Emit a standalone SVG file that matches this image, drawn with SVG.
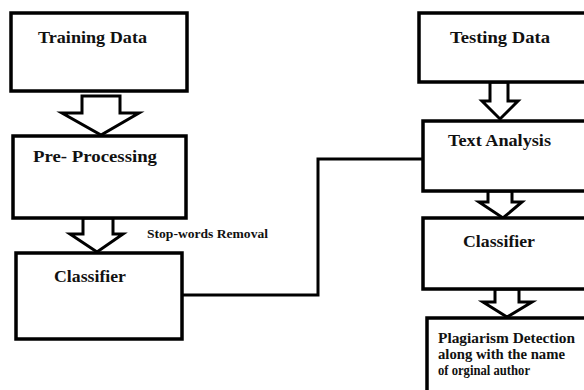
<svg xmlns="http://www.w3.org/2000/svg" width="584" height="390" viewBox="0 0 584 390">
  <style>
    .box { fill: #ffffff; stroke: #000000; stroke-width: 3.5; }
    .arrow { fill: #ffffff; stroke: #000000; stroke-width: 3; stroke-linejoin: miter; }
    .wire { fill: none; stroke: #000000; stroke-width: 3; }
    .lbl { font-family: "Liberation Serif", "Times New Roman", serif; font-weight: bold; fill: #111111; }
    .big { font-size: 17px; }
    .small { font-size: 11.5px; }
    .mid { font-size: 14.5px; }
  </style>
  <rect width="584" height="390" fill="#ffffff"/>

  <!-- link between the two pipelines -->
  <g id="connectors">
    <polyline class="wire" points="182,295 318,295 318,159 423,159"/>
    <!-- block arrows -->
    <polygon class="arrow" points="82,96 120,96 120,113 139,113 101,135 62,113 82,113"/>
    <polygon class="arrow" points="83,218 113,218 113,234 123,234 97,252 70,234 83,234"/>
    <polygon class="arrow" points="490,82 508,82 508,101 518,101 500,119 482,101 490,101"/>
    <polygon class="arrow" points="488,191 512,191 512,202 522,202 503,218 479,202 488,202"/>
    <polygon class="arrow" points="495,289 519,289 519,302 532,302 507,317 483,302 495,302"/>
  </g>

  <g id="training-data">
    <rect class="box" x="11" y="13" width="176" height="78"/>
    <text class="lbl big" x="38" y="43" textLength="109" lengthAdjust="spacingAndGlyphs">Training Data</text>
  </g>

  <g id="pre-processing">
    <rect class="box" x="13" y="136" width="173" height="82"/>
    <text class="lbl big" x="33" y="162" textLength="124" lengthAdjust="spacingAndGlyphs">Pre- Processing</text>
  </g>

  <g id="stop-words-label">
    <text class="lbl small" x="147" y="238" textLength="121" lengthAdjust="spacingAndGlyphs">Stop-words Removal</text>
  </g>

  <g id="classifier-train">
    <rect class="box" x="16" y="253" width="166" height="86"/>
    <text class="lbl big" x="54" y="282" textLength="72" lengthAdjust="spacingAndGlyphs">Classifier</text>
  </g>

  <g id="testing-data">
    <rect class="box" x="419" y="13" width="175" height="69"/>
    <text class="lbl big" x="450" y="43" textLength="100" lengthAdjust="spacingAndGlyphs">Testing Data</text>
  </g>

  <g id="text-analysis">
    <rect class="box" x="423" y="121" width="171" height="70"/>
    <text class="lbl big" x="448" y="146" textLength="103" lengthAdjust="spacingAndGlyphs">Text Analysis</text>
  </g>

  <g id="classifier-test">
    <rect class="box" x="423" y="218" width="171" height="71"/>
    <text class="lbl big" x="463" y="247" textLength="72" lengthAdjust="spacingAndGlyphs">Classifier</text>
  </g>

  <g id="plagiarism-detection">
    <rect class="box" x="427" y="318" width="167" height="90"/>
    <text class="lbl mid" x="438" y="343" textLength="137" lengthAdjust="spacingAndGlyphs">Plagiarism Detection</text>
    <text class="lbl mid" x="438" y="359" textLength="127" lengthAdjust="spacingAndGlyphs">along with the name</text>
    <text class="lbl mid" x="438" y="375" textLength="92" lengthAdjust="spacingAndGlyphs">of orginal author</text>
  </g>
</svg>
